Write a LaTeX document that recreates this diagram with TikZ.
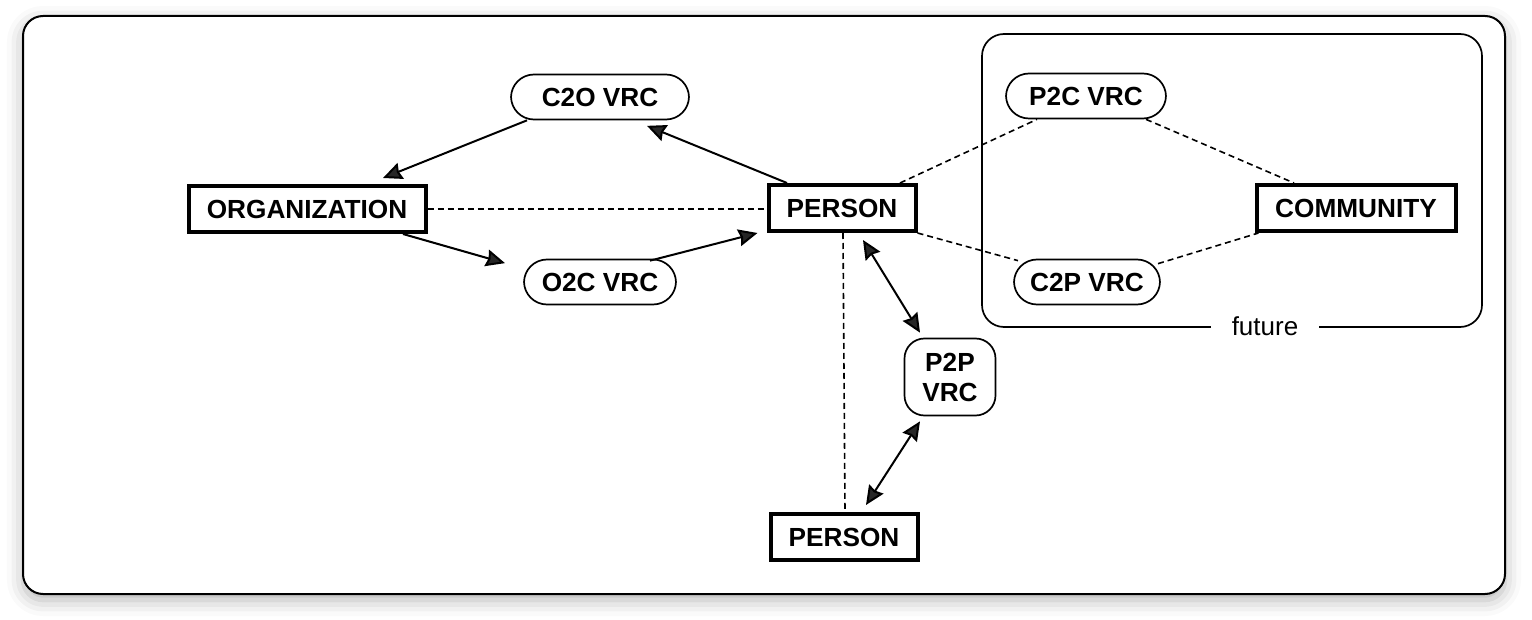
\documentclass[tikz,border=0pt]{standalone}
\usepackage{fontspec}
\setmainfont{Liberation Sans}
\usetikzlibrary{arrows.meta,shadows.blur}
\pgfdeclarelayer{background}
\pgfdeclarelayer{foreground}
\pgfsetlayers{background,main,foreground}

\tikzset{
  entity/.style={draw, line width=2pt, inner sep=0pt, minimum height=23pt,
    font=\fontsize{13.1}{15}\selectfont\bfseries},
  vrc/.style={draw, line width=0.85pt, inner sep=0pt, minimum height=22.5pt,
    rounded corners=11.5pt, font=\fontsize{13.1}{15}\selectfont\bfseries},
  issue/.style={line width=1pt, -{Stealth[length=9.5pt,width=8.5pt,inset=1pt]}},
  mutual/.style={line width=1pt, {Stealth[length=9.5pt,width=8.5pt,inset=1pt]}-{Stealth[length=9.5pt,width=8.5pt,inset=1pt]}},
  link/.style={line width=0.8pt, dash pattern=on 3pt off 2pt},
}

\begin{document}
\begin{tikzpicture}[x=0.5pt,y=-0.5pt]
\useasboundingbox (0,0) rectangle (1532,620);
\begin{pgfonlayer}{background}
\draw[line width=1pt, rounded corners=10pt, fill=white,
  blur shadow={shadow xshift=0pt, shadow yshift=-3pt, shadow blur radius=8pt, shadow opacity=30}]
  (23,16) rectangle (1505,594);
\draw[line width=0.85pt, rounded corners=11pt] (982,34) rectangle (1482,327);
\end{pgfonlayer}
\begin{pgfonlayer}{foreground}
\node[entity, minimum width=118.5pt] (org) at (307,209) {ORGANIZATION};
\node[entity, minimum width=73.5pt] (pers) at (842,208) {PERSON};
\node[entity, minimum width=73.5pt] (pers2) at (844,537) {PERSON};
\node[entity, minimum width=99.5pt] (comm) at (1356,208) {COMMUNITY};
\node[vrc, minimum width=89pt] (c2o) at (600,97) {C2O VRC};
\node[vrc, minimum width=76pt] (o2c) at (600,282) {O2C VRC};
\node[vrc, minimum width=80pt] (p2c) at (1086,96) {P2C VRC};
\node[vrc, minimum width=73pt] (c2p) at (1087,282) {C2P VRC};
\node[vrc, rounded corners=10pt, minimum width=45.5pt, minimum height=38.5pt, align=center] (p2p) at (950,377) {P2P\\VRC};
\node[fill=white, inner xsep=10.5pt, inner ysep=2pt, font=\fontsize{13}{15}\selectfont] (fut) at (1265,326) {future};
\end{pgfonlayer}
% issuing
\draw[issue] ([shift={(-73,0)}]c2o.south) -- ([shift={(76,-6)}]org.north);
\draw[issue] ([shift={(-55,0)}]pers.north) -- ([shift={(47,5.5)}]c2o.south);
\draw[issue] ([shift={(96,0)}]org.south) -- ([shift={(-95,4.5)}]o2c.north);
\draw[issue] ([shift={(50,2)}]o2c.north) -- ([shift={(-9,0)}]pers.south west);
% relations
\draw[link] (org.east) -- (org.east -| pers.west);
\draw[link] ([shift={(58,0)}]pers.north) -- ([shift={(-49,0)}]p2c.south);
\draw[link] (pers.south east) -- ([shift={(-69,2)}]c2p.north);
\draw[link] ([shift={(60,0)}]p2c.south) -- ([shift={(-62,0)}]comm.north);
\draw[link] ([shift={(71,5)}]c2p.north) -- ([shift={(4,0)}]comm.south west);
\draw[link] ([shift={(1,0)}]pers.south) -- ([shift={(1,0)}]pers2.north);
% peer to peer
\draw[mutual] ([shift={(21,7)}]pers.south) -- ([shift={(-30,-5)}]p2p.north);
\draw[mutual] ([shift={(-30,5)}]p2p.south) -- ([shift={(22,-7)}]pers2.north);
\end{tikzpicture}
\end{document}
